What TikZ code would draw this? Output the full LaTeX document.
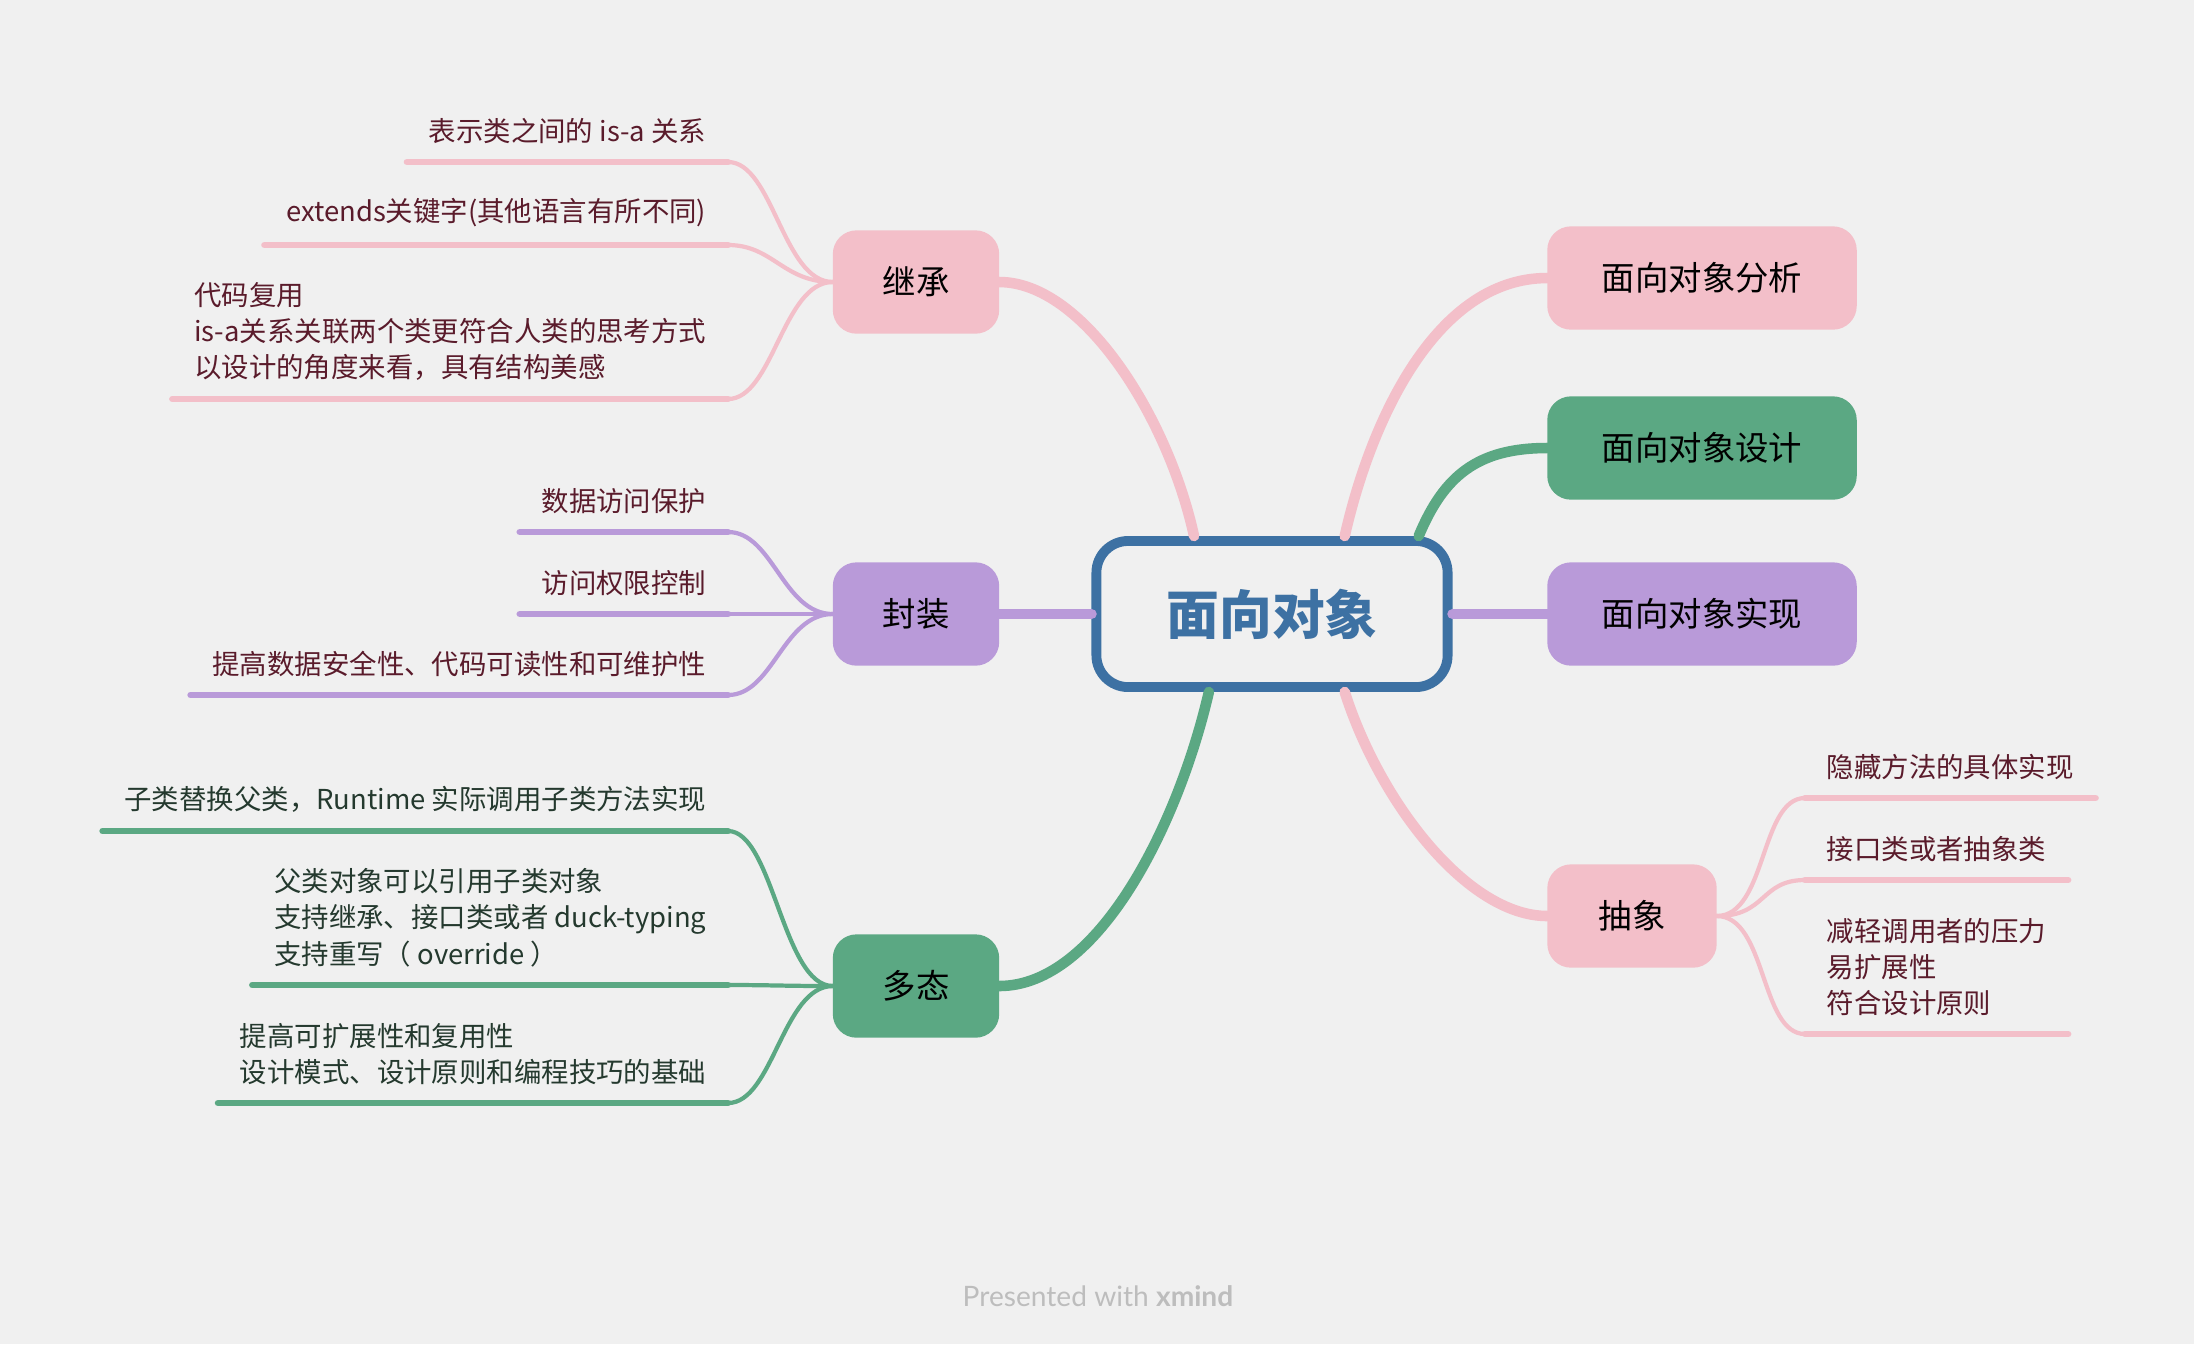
\documentclass[tikz,border=0pt]{standalone}
\usepackage{fontspec}
\setmainfont{Noto Sans CJK SC}
\newfontfamily\brandfont{Lato}
\usetikzlibrary{calc}
\definecolor{bgcol}{HTML}{F0F0F0}
\definecolor{rootblue}{HTML}{3D71A3}
\definecolor{pinkc}{HTML}{F3BFC9}
\definecolor{greenc}{HTML}{5BA883}
\definecolor{purplec}{HTML}{B99AD9}
\definecolor{leafred}{HTML}{5A1B2B}
\definecolor{leafgreen}{HTML}{24392E}
\definecolor{brandgray}{HTML}{BDBDBD}
\tikzset{
  root/.style={draw=rootblue, line width=2.8pt, rounded corners=9pt, fill=bgcol,
    minimum width=3.51cm, minimum height=1.46cm, text=rootblue,
    font=\fontsize{15}{18}\selectfont\bfseries},
  topic/.style={fill=#1, draw=#1, line width=1.5pt, rounded corners=6pt,
    minimum height=0.98cm, font=\fontsize{9.5}{11}\selectfont},
  branch/.style={draw=#1, line width=3pt, line cap=round},
  leaf/.style={align=left, inner xsep=6pt, inner ysep=5pt, text=leafred,
    font=\fontsize{7.8}{10.3}\selectfont},
  twig/.style={draw=#1, line width=1.2pt, line cap=round},
  underline/.style={draw=#1, line width=1.9pt, line cap=round}
}
\begin{document}
\begin{tikzpicture}[x=0.01cm, y=-0.01cm]
\fill[bgcol] (0,0) rectangle (2194,1344);
\useasboundingbox (0,0) rectangle (2194,1344);

\node[root] (root) at (1272,614) {面向对象};

\node[topic=pinkc, minimum width=1.61cm] (jc) at (916,282) {继承};
\node[topic=purplec, minimum width=1.61cm] (fz) at (916,614) {封装};
\node[topic=greenc, minimum width=1.61cm] (dt) at (916,986) {多态};
\node[topic=pinkc, minimum width=3.04cm] (fx) at (1702,278) {面向对象分析};
\node[topic=greenc, minimum width=3.04cm] (sj) at (1702,448) {面向对象设计};
\node[topic=purplec, minimum width=3.04cm] (sx) at (1702,614) {面向对象实现};
\node[topic=pinkc, minimum width=1.64cm] (cx) at (1632,916) {抽象};

\draw[branch=pinkc] (root.135) .. controls +(-26,-119) and +(84,0) .. (jc.east);
\draw[branch=purplec] (root.west) -- (fz.east);
\draw[branch=greenc] (root.231) .. controls +(-30,130) and +(100,0) .. (dt.east);
\draw[branch=pinkc] (root.47) .. controls +(27,-119) and +(-110,0) .. (fx.west);
\draw[branch=greenc] (root.28) .. controls +(25,-60) and +(-70,0) .. (sj.west);
\draw[branch=purplec] (root.east) -- (sx.west);
\draw[branch=pinkc] (root.-47) .. controls +(35,110) and +(-80,0) .. (cx.west);

\node[leaf, anchor=south east] (jc1) at (728,162) {表示类之间的 is-a 关系};
\node[leaf, anchor=south east] (jc2) at (728,245) {extends关键字(其他语言有所不同)};
\node[leaf, anchor=south east] (jc3) at (728,399) {代码复用\\is-a关系关联两个类更符合人类的思考方式\\以设计的角度来看，具有结构美感};
\foreach \n in {jc1,jc2,jc3} {
  \draw[twig=pinkc] (jc.west) .. controls +(-50,0) and +(45,0) .. (\n.south east);
  \draw[underline=pinkc] (\n.south east) -- (\n.south west);
}

\node[leaf, anchor=south east] (fz1) at (728,532) {数据访问保护};
\node[leaf, anchor=south east] (fz2) at (728,614) {访问权限控制};
\node[leaf, anchor=south east] (fz3) at (728,695) {提高数据安全性、代码可读性和可维护性};
\foreach \n in {fz1,fz2,fz3} {
  \draw[twig=purplec] (fz.west) .. controls +(-50,0) and +(45,0) .. (\n.south east);
  \draw[underline=purplec] (\n.south east) -- (\n.south west);
}

\node[leaf, anchor=south east, text=leafgreen] (dt1) at (728,831) {子类替换父类，Runtime 实际调用子类方法实现};
\node[leaf, anchor=south east, text=leafgreen] (dt2) at (728,985) {父类对象可以引用子类对象\\支持继承、接口类或者 duck-typing\\支持重写（ override ）};
\node[leaf, anchor=south east, text=leafgreen] (dt3) at (728,1103) {提高可扩展性和复用性\\设计模式、设计原则和编程技巧的基础};
\foreach \n in {dt1,dt2,dt3} {
  \draw[twig=greenc] (dt.west) .. controls +(-50,0) and +(45,0) .. (\n.south east);
  \draw[underline=greenc] (\n.south east) -- (\n.south west);
}

\node[leaf, anchor=south west] (cx1) at (1805,798) {隐藏方法的具体实现};
\node[leaf, anchor=south west] (cx2) at (1805,880) {接口类或者抽象类};
\node[leaf, anchor=south west] (cx3) at (1805,1034) {减轻调用者的压力\\易扩展性\\符合设计原则};
\foreach \n in {cx1,cx2,cx3} {
  \draw[twig=pinkc] (cx.east) .. controls +(50,0) and +(-45,0) .. (\n.south west);
  \draw[underline=pinkc] (\n.south west) -- (\n.south east);
}

\node[text=brandgray, font=\brandfont\fontsize{8}{10}\selectfont] (brand) at (1098,1296) {Presented with \textbf{xmind}};
\end{tikzpicture}
\end{document}
